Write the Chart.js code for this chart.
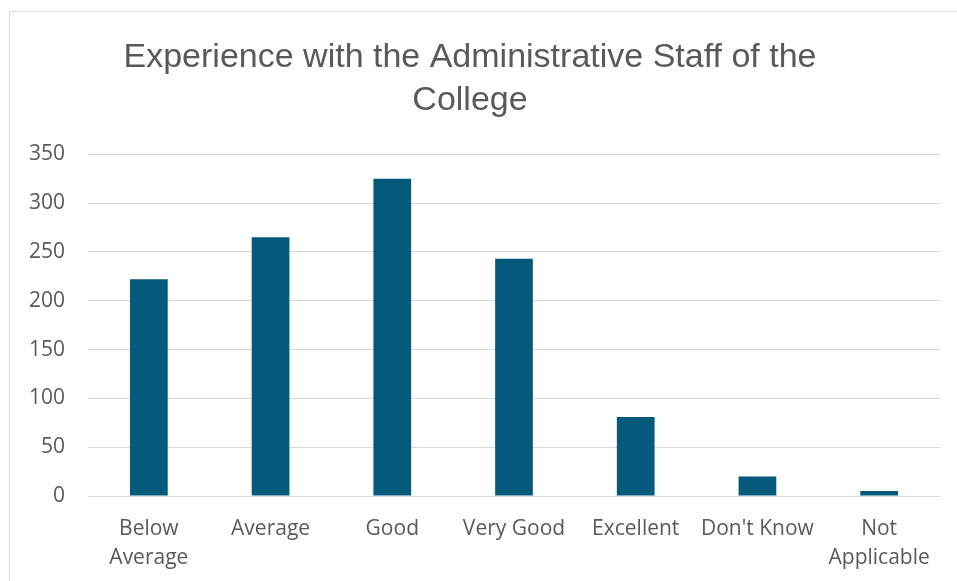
<!DOCTYPE html>
<html>
<head>
<meta charset="utf-8">
<script src="https://cdn.jsdelivr.net/npm/chart.js@4.4.1/dist/chart.umd.min.js"></script>
<style>
  html, body { margin: 0; padding: 0; background: #fff; }
  #wrap { position: relative; width: 957px; height: 581px; overflow: hidden; }
  #frame { position: absolute; left: 9px; top: 11px; width: 1000px; height: 600px;
           border-left: 1px solid #d9d9d9; border-top: 1px solid #e6dede; }
  #chart { position: absolute; left: 0; top: 0; }
</style>
</head>
<body>
<div id="wrap">
  <div id="frame"></div>
  <canvas id="chart" width="957" height="581"></canvas>
</div>
<script>
const categories = [["Below", "Average"], "Average", "Good", "Very Good", "Excellent", "Don't Know", ["Not", "Applicable"]];
const responses = [222, 265, 325, 243, 81, 20, 5];
const yTicks = [0, 50, 100, 150, 200, 250, 300, 350];

const textColor = '#595959';
const gridColor = '#d9d9d9';

const ctx = document.getElementById("chart").getContext("2d");

new Chart(ctx, {
    type: 'bar',
    data: {
        labels: categories,
        datasets: [{
            label: 'Responses',
            data: responses,
            backgroundColor: '#055a7c',
            borderWidth: 0,
            categoryPercentage: 1,
            barPercentage: 0.31
        }]
    },
    options: {
        responsive: false,
        animation: false,
        layout: { padding: { left: 0, right: 17, top: 0, bottom: 0 } },
        plugins: {
            legend: { display: false },
            tooltip: { enabled: false },
            title: {
                display: true,
                text: ['Experience with the Administrative Staff of the', 'College'],
                color: textColor,
                font: { family: "'Liberation Sans', sans-serif", size: 34, weight: 'normal', lineHeight: 1.27 },
                padding: { top: 36, bottom: 32 }
            }
        },
        scales: {
            x: {
                grid: { display: false },
                border: { display: false },
                ticks: {
                    color: textColor,
                    font: { family: "'Open Sans', sans-serif", size: 21, lineHeight: 1.38 },
                    padding: 11,
                    maxRotation: 0,
                    autoSkip: false
                },
                afterFit(scale) { scale.height = 85; }
            },
            y: {
                min: 0,
                max: 350,
                afterBuildTicks(scale) { scale.ticks = yTicks.map(v => ({ value: v })); },
                grid: { color: gridColor, lineWidth: 1, drawTicks: false },
                border: { display: false },
                ticks: {
                    color: textColor,
                    font: { family: "'Open Sans', sans-serif", size: 21 },
                    padding: 23
                },
                afterFit(scale) { scale.width = 88; }
            }
        }
    }
});
</script>
</body>
</html>
